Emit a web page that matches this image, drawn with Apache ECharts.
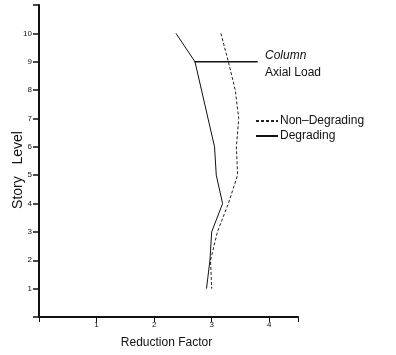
<!DOCTYPE html>
<html>
<head>
<meta charset="utf-8">
<script src="https://cdn.jsdelivr.net/npm/echarts@6/dist/echarts.min.js"></script>
<style>
  html, body { margin: 0; padding: 0; background: #fff; }
  #main { width: 396px; height: 355px; }
</style>
</head>
<body>
<div id="main"></div>
<script>
// story levels and reduction factors
var levels = [10, 9, 8, 7, 6, 5, 4, 3, 2, 1];
var nonDegrading = [3.16, 3.29, 3.41, 3.47, 3.43, 3.45, 3.29, 3.10, 2.98, 3.0];
var degradingLevels = [10, 9, 6, 5, 4, 3, 2, 1];
var degrading = [2.38, 2.71, 3.05, 3.08, 3.19, 3.0, 2.97, 2.91];
var axialLoadX = [2.7, 3.8];
var axialLoadLevel = 9;
var xTicks = [1, 2, 3, 4];
var yTicks = [1, 2, 3, 4, 5, 6, 7, 8, 9, 10];

var font = 'Liberation Sans, Arial, sans-serif';

function pairs(xs, ys) {
  return xs.map(function (x, i) { return [x, ys[i]]; });
}

var myChart = echarts.init(document.getElementById('main'));

var option = {
  backgroundColor: '#fff',
  animation: false,
  textStyle: { fontFamily: font, color: '#111' },
  grid: { left: 39, right: 98, top: 5, bottom: 38, outerBoundsMode: 'none', containLabel: false },
  legend: {
    orient: 'vertical',
    left: 250,
    top: 110,
    itemWidth: 22,
    itemHeight: 8,
    itemGap: 3,
    itemStyle: { opacity: 0 },
    data: ['Non\u2013Degrading', 'Degrading'],
    textStyle: { fontFamily: font, fontSize: 12, color: '#111', padding: [0, 0, 0, -3] }
  },
  xAxis: {
    type: 'value',
    min: 0,
    max: 4.5,
    interval: 1,
    name: 'Reduction Factor',
    nameLocation: 'middle',
    nameGap: 20,
    nameMoveOverlap: false,
    nameTextStyle: { fontFamily: font, fontSize: 12, color: '#111', padding: [0, 4, 0, 0] },
    splitLine: { show: false },
    axisLine: { lineStyle: { color: '#111', width: 2 } },
    axisTick: { show: true, length: 5, lineStyle: { color: '#111' } },
    axisLabel: {
      fontSize: 8,
      margin: 4,
      color: '#111',
      formatter: function (v) { return xTicks.indexOf(v) >= 0 ? String(v) : ''; }
    }
  },
  yAxis: {
    type: 'value',
    min: 0,
    max: 11,
    interval: 1,
    name: 'Story   Level',
    nameLocation: 'middle',
    nameGap: 14,
    nameMoveOverlap: false,
    nameTextStyle: { fontFamily: font, fontSize: 14, color: '#111', padding: [0, 18, 0, 0] },
    splitLine: { show: false },
    axisLine: { lineStyle: { color: '#111', width: 2 } },
    axisTick: { show: true, length: 6, lineStyle: { color: '#111', width: 1.5 } },
    axisLabel: {
      fontSize: 8,
      margin: 7,
      color: '#111',
      formatter: function (v) { return yTicks.indexOf(v) >= 0 ? String(v) : ''; }
    }
  },
  series: [
    {
      name: 'Non\u2013Degrading',
      type: 'line',
      symbol: 'none',
      lineStyle: { color: '#222', width: 1, type: [3, 2] },
      itemStyle: { color: '#222' },
      data: pairs(nonDegrading, levels)
    },
    {
      name: 'Degrading',
      type: 'line',
      symbol: 'none',
      lineStyle: { color: '#111', width: 1 },
      itemStyle: { color: '#111' },
      data: pairs(degrading, degradingLevels)
    },
    {
      name: 'Column Axial Load',
      type: 'line',
      symbol: 'none',
      lineStyle: { color: '#111', width: 1.5 },
      data: pairs(axialLoadX, [axialLoadLevel, axialLoadLevel])
    }
  ],
  graphic: [
    {
      type: 'text',
      left: 265,
      top: 50,
      style: { text: 'Column', font: 'italic 12px ' + font, fill: '#111' }
    },
    {
      type: 'text',
      left: 265,
      top: 67,
      style: { text: 'Axial Load', font: '12px ' + font, fill: '#111' }
    }
  ]
};

myChart.setOption(option);
</script>
</body>
</html>
